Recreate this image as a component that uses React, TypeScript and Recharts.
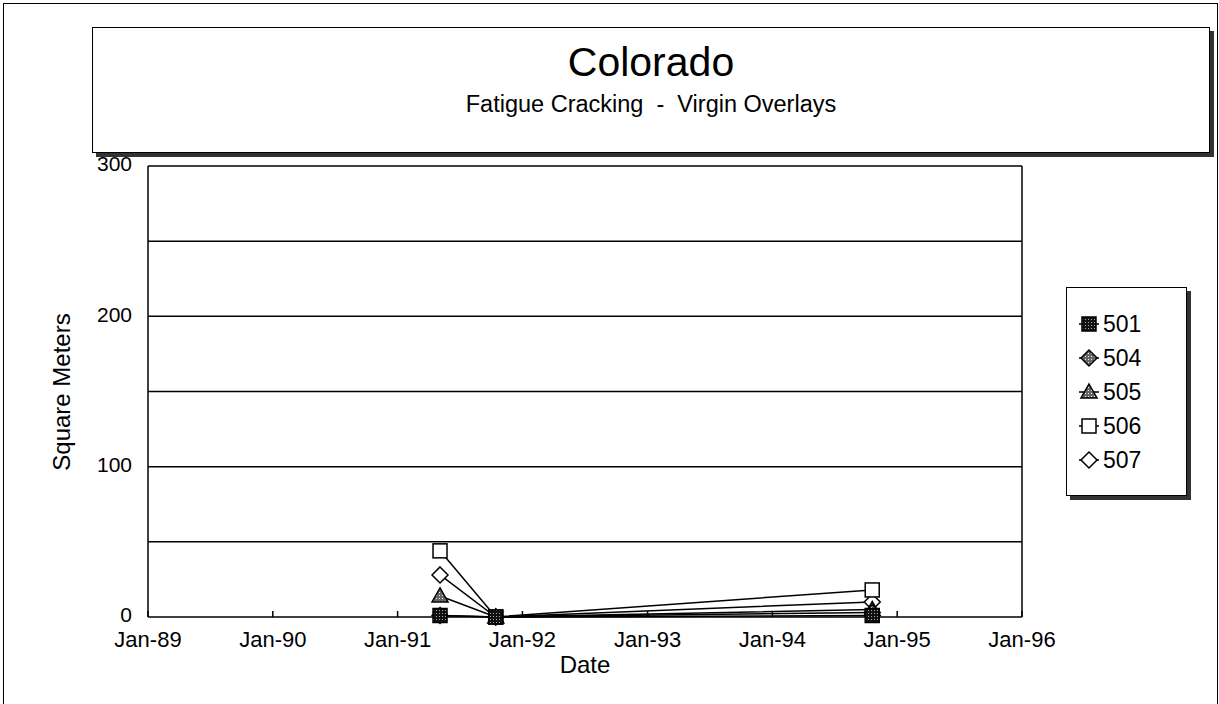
import React from "react";
import { LineChart, Line, XAxis, YAxis, ReferenceLine } from "recharts";

// survey dates and measured fatigue cracking area (square meters)
const dates = ["1991-05-05", "1991-10-15", "1994-10-20"];
const s501 = [1, 0, 1];
const s504 = [1, 0, 3];
const s505 = [14, 0, 5];
const s506 = [44, 0, 18];
const s507 = [28, 0, 10];

const yearTicks = [
  "1989-01-01",
  "1990-01-01",
  "1991-01-01",
  "1992-01-01",
  "1993-01-01",
  "1994-01-01",
  "1995-01-01",
  "1996-01-01",
];
const yTicks = [0, 100, 200, 300];
const gridValues = [50, 100, 150, 200, 250, 300];

const toTime = (s: string) => Date.parse(s + "T00:00:00Z");

const data = dates.map((d, i) => ({
  t: toTime(d),
  s501: s501[i],
  s504: s504[i],
  s505: s505[i],
  s506: s506[i],
  s507: s507[i],
}));

type Shape = "square" | "diamond" | "triangle";

const SERIES: { key: string; name: string; shape: Shape; fill: string }[] = [
  { key: "s501", name: "501", shape: "square", fill: "url(#stipDark)" },
  { key: "s504", name: "504", shape: "diamond", fill: "url(#stipLight)" },
  { key: "s505", name: "505", shape: "triangle", fill: "url(#stipLight)" },
  { key: "s506", name: "506", shape: "square", fill: "#fff" },
  { key: "s507", name: "507", shape: "diamond", fill: "#fff" },
];

const FONT = '"Liberation Sans", Arial, sans-serif';

function Marker({ cx, cy, shape, fill }: { cx: number; cy: number; shape: Shape; fill: string }) {
  if (shape === "square") {
    return <rect x={cx - 7} y={cy - 7} width={14} height={14} fill={fill} stroke="#000" strokeWidth={1.5} />;
  }
  if (shape === "diamond") {
    return (
      <polygon
        points={`${cx},${cy - 8} ${cx + 8},${cy} ${cx},${cy + 8} ${cx - 8},${cy}`}
        fill={fill}
        stroke="#000"
        strokeWidth={1.5}
      />
    );
  }
  return (
    <polygon
      points={`${cx},${cy - 8} ${cx + 8},${cy + 6} ${cx - 8},${cy + 6}`}
      fill={fill}
      stroke="#000"
      strokeWidth={1.5}
    />
  );
}

const fmtTick = (v: number) => "Jan-" + String(new Date(v).getUTCFullYear()).slice(2);

export default function App() {
  // last series drawn first so 501 ends up on top, like the original
  const drawOrder = [...SERIES].reverse();

  return (
    <div
      style={{
        position: "absolute",
        left: 0,
        top: 0,
        width: 1219,
        height: 704,
        background: "#fff",
        fontFamily: FONT,
        color: "#000",
        overflow: "hidden",
      }}
    >
      {/* shared fill patterns */}
      <svg width={0} height={0} style={{ position: "absolute" }}>
        <defs>
          <pattern id="stipDark" width={3} height={3} patternUnits="userSpaceOnUse">
            <rect width={3} height={3} fill="#111" />
            <rect x={1} y={1} width={1} height={1} fill="#aaa" />
          </pattern>
          <pattern id="stipLight" width={3} height={3} patternUnits="userSpaceOnUse">
            <rect width={3} height={3} fill="#666" />
            <rect x={1} y={1} width={1} height={1} fill="#eee" />
          </pattern>
        </defs>
      </svg>

      {/* outer frame */}
      <div
        style={{
          position: "absolute",
          left: 3,
          top: 3,
          width: 1213,
          height: 740,
          borderLeft: "1.5px solid #000",
          borderTop: "1.5px solid #000",
          borderRight: "1.5px solid #000",
        }}
      />

      {/* title box */}
      <div
        style={{
          position: "absolute",
          left: 92,
          top: 27,
          width: 1116,
          height: 124,
          border: "1.5px solid #000",
          boxShadow: "4px 4px 0 #333",
          textAlign: "center",
        }}
      >
        <div style={{ fontSize: 41, lineHeight: "46px", marginTop: 11 }}>Colorado</div>
        <div style={{ fontSize: 23.5, lineHeight: "28px", marginTop: 5 }}>Fatigue Cracking&nbsp; - &nbsp;Virgin Overlays</div>
      </div>

      <LineChart
        width={1219}
        height={704}
        data={data}
        margin={{ top: 166, right: 197, bottom: 27, left: 88 }}
        style={{ position: "absolute", left: 0, top: 0 }}
      >
        <XAxis
          dataKey="t"
          type="number"
          domain={[toTime(yearTicks[0]), toTime(yearTicks[yearTicks.length - 1])]}
          ticks={yearTicks.map(toTime)}
          tickFormatter={fmtTick}
          interval={0}
          height={60}
          tickSize={-6}
          tickMargin={20}
          axisLine={{ stroke: "#000", strokeWidth: 1.5 }}
          tickLine={{ stroke: "#000", strokeWidth: 1.5 }}
          tick={{ fill: "#000", fontSize: 22 }}
        />
        <YAxis
          type="number"
          domain={[0, 300]}
          ticks={yTicks}
          width={60}
          tickSize={0}
          tickMargin={16}
          tickLine={false}
          axisLine={{ stroke: "#000", strokeWidth: 1.5 }}
          tick={{ fill: "#000", fontSize: 21, dy: -2 }}
        />
        {gridValues.map((v) => (
          <ReferenceLine key={v} y={v} stroke="#000" strokeWidth={1.5} />
        ))}
        <ReferenceLine x={toTime(yearTicks[yearTicks.length - 1])} stroke="#000" strokeWidth={1.5} />
        {drawOrder.map((s) => (
          <Line
            key={s.key}
            dataKey={s.key}
            name={s.name}
            stroke="#000"
            strokeWidth={1.5}
            isAnimationActive={false}
            activeDot={false}
            dot={(p: any) => (
              <Marker key={`${s.key}-${p.index}`} cx={p.cx} cy={p.cy} shape={s.shape} fill={s.fill} />
            )}
          />
        ))}
      </LineChart>

      {/* axis titles */}
      <div
        style={{
          position: "absolute",
          left: 62,
          top: 392,
          transform: "translate(-50%, -50%) rotate(-90deg)",
          fontSize: 24,
          whiteSpace: "nowrap",
        }}
      >
        Square Meters
      </div>
      <div
        style={{
          position: "absolute",
          left: 585,
          top: 665,
          transform: "translate(-50%, -50%)",
          fontSize: 24,
        }}
      >
        Date
      </div>

      {/* legend */}
      <div
        style={{
          position: "absolute",
          left: 1066,
          top: 287,
          width: 119,
          height: 207,
          border: "1.5px solid #000",
          boxShadow: "4px 4px 0 #333",
          background: "#fff",
        }}
      >
        {SERIES.map((s, i) => (
          <div
            key={s.key}
            style={{
              position: "absolute",
              left: 8,
              top: 21 + i * 34,
              height: 30,
              display: "flex",
              alignItems: "center",
            }}
          >
            <svg width={28} height={24}>
              <line x1={4} y1={12} x2={24} y2={12} stroke="#000" strokeWidth={1.5} />
              <Marker cx={14} cy={12} shape={s.shape} fill={s.fill} />
            </svg>
            <span style={{ fontSize: 23, marginLeft: 0 }}>{s.name}</span>
          </div>
        ))}
      </div>
    </div>
  );
}
